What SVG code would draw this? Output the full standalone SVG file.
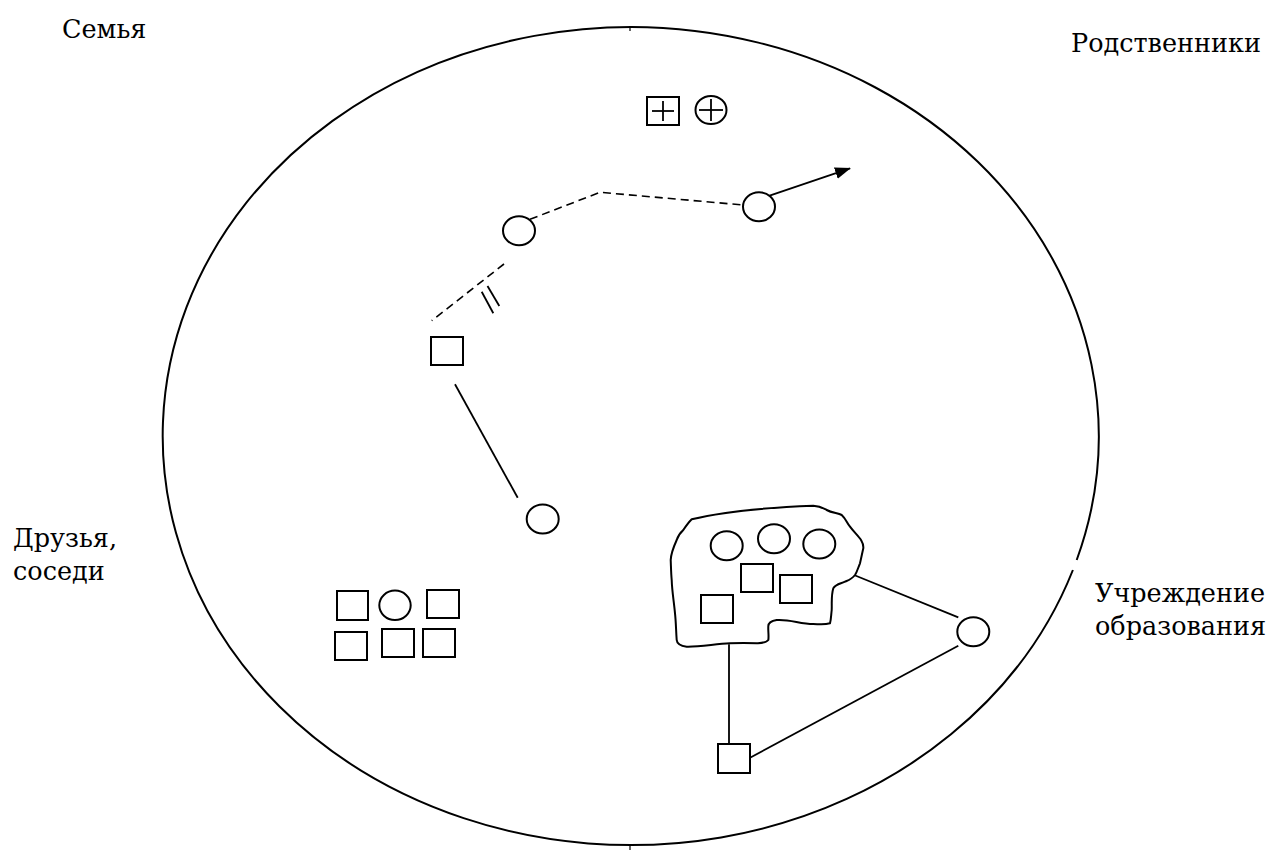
<svg xmlns="http://www.w3.org/2000/svg" width="1267" height="850" viewBox="0 0 1267 850">
<style>
  .shape { fill: #fff; stroke: #000; stroke-width: 2; }
  .ln { fill: none; stroke: #000; stroke-width: 1.8; }
  .dash { fill: none; stroke: #000; stroke-width: 1.6; stroke-dasharray: 8 5; }
</style>
<defs>
  <marker id="arrow" viewBox="0 0 16 12" refX="15" refY="6" markerWidth="16" markerHeight="12" markerUnits="userSpaceOnUse" orient="auto">
    <path d="M0 0 L16 6 L0 12 Z" fill="#000"/>
  </marker>
</defs>
<rect width="1267" height="850" fill="#fff"/>

<g id="field">
  <path d="M 1076.7 560 A 468 409 0 1 0 1072.9 570" fill="none" stroke="#000" stroke-width="2"/>
  <line x1="630" y1="26" x2="630" y2="31" stroke="#000" stroke-width="1.2"/>
  <line x1="630" y1="845" x2="630" y2="850" stroke="#000" stroke-width="1.2"/>
</g>

<g id="labels" font-family="'DejaVu Serif', 'Liberation Serif', serif" font-size="25.5" fill="#000">
  <text x="62" y="38">Семья</text>
  <text x="1071" y="52">Родственники</text>
  <text x="13" y="547">Друзья,</text>
  <text x="13" y="580">соседи</text>
  <text x="1095" y="602">Учреждение</text>
  <text x="1095" y="635">образования</text>
</g>

<g id="connectors">
  <polyline class="dash" points="530,219.3 600,192.3 743.3,205"/>
  <line class="dash" x1="504" y1="264" x2="431.7" y2="320.7"/>
  <line class="ln" x1="481.7" y1="291.7" x2="493.3" y2="313.3"/>
  <line class="ln" x1="487.5" y1="286" x2="499.3" y2="306"/>
  <line class="ln" x1="766.7" y1="196.7" x2="850" y2="168.3" stroke-width="2.2" marker-end="url(#arrow)"/>
  <line class="ln" x1="455" y1="384.3" x2="517.7" y2="497.7"/>
  <line class="ln" x1="854" y1="575" x2="958.3" y2="617.3"/>
  <line class="ln" x1="958.3" y1="645.7" x2="750" y2="757.7"/>
  <line class="ln" x1="729" y1="644.3" x2="729" y2="744.3"/>
</g>

<g id="top-symbols">
  <rect class="shape" x="647" y="97" width="32" height="28"/>
  <line class="ln" x1="652" y1="111" x2="674" y2="111"/>
  <line class="ln" x1="663" y1="101" x2="663" y2="121"/>
  <ellipse class="shape" cx="711" cy="110" rx="15.5" ry="14"/>
  <line class="ln" x1="699" y1="110" x2="723" y2="110"/>
  <line class="ln" x1="711" y1="99" x2="711" y2="121"/>
</g>

<g id="node-circle-1"><ellipse class="shape" cx="519" cy="230.7" rx="16" ry="14.5"/></g>
<g id="node-circle-2"><ellipse class="shape" cx="759" cy="206.7" rx="16" ry="14.5"/></g>
<g id="node-square-1"><rect class="shape" x="431" y="337" width="32" height="28"/></g>
<g id="node-circle-3"><ellipse class="shape" cx="542.7" cy="519" rx="16" ry="14.5"/></g>

<g id="group-friends">
  <rect class="shape" x="337" y="591" width="31" height="29"/>
  <ellipse class="shape" cx="395" cy="605.3" rx="15.7" ry="14.7"/>
  <rect class="shape" x="427" y="590" width="32" height="28"/>
  <rect class="shape" x="335" y="632" width="32" height="28"/>
  <rect class="shape" x="382" y="629" width="32" height="28"/>
  <rect class="shape" x="423" y="629" width="32" height="28"/>
</g>

<g id="group-school">
  <path class="shape" d="M 691.7 519.3 C 730 510, 780 507, 813.3 505.7 C 820 506, 823 508, 826.7 510 C 832 513, 838 513, 841.7 515 C 846 519, 847 523, 850 526.7 C 856 535, 864 540, 863.3 548.3 C 862 554, 861 559, 860 563.3 C 858 568, 857 572, 855 575 C 852 579, 849 580, 845 581.7 C 840 584, 836 584, 833.3 588.3 C 831 596, 832 603, 831.7 610 C 831 616, 831 620, 830 623.3 C 824 625, 818 624, 813.3 624 C 800 624, 790 619, 776.7 620 C 771 621, 768 623, 768.3 626.7 C 768 631, 769 636, 768.3 640 C 766 643, 761 643, 756.7 643.3 C 748 643, 739 643, 730 643.3 C 715 644, 700 647, 686.7 646.7 C 681 646, 677 644, 676.7 640 C 676 631, 676 622, 675 613.3 C 674 602, 672 591, 671.7 580 C 671 573, 671 566, 670.7 560 C 671 553, 674 546, 676.7 540 C 678 536, 680 533, 683.3 530 C 686 526, 689 522, 691.7 519.3 Z"/>
  <ellipse class="shape" cx="726.7" cy="545.7" rx="16" ry="14.5"/>
  <ellipse class="shape" cx="774" cy="538.7" rx="16" ry="14.5"/>
  <ellipse class="shape" cx="819.3" cy="544" rx="16" ry="14.5"/>
  <rect class="shape" x="741" y="564" width="32" height="28"/>
  <rect class="shape" x="780" y="575" width="32" height="28"/>
  <rect class="shape" x="701" y="595" width="32" height="28"/>
</g>

<g id="node-circle-school"><ellipse class="shape" cx="973.3" cy="631.7" rx="16" ry="14.5"/></g>
<g id="node-square-bottom"><rect class="shape" x="718" y="744" width="32" height="29"/></g>
</svg>
